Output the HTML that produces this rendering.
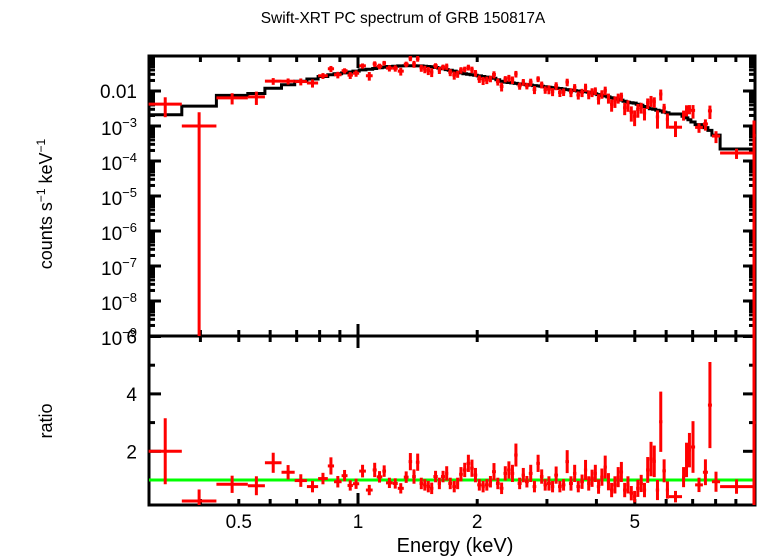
<!DOCTYPE html>
<html><head><meta charset="utf-8"><style>
html,body{margin:0;padding:0;background:#fff;}
svg{display:block;font-family:"Liberation Sans",sans-serif;}
</style></head><body>
<svg id="chart" width="758" height="556" viewBox="0 0 758 556" xmlns="http://www.w3.org/2000/svg">
<defs>
<clipPath id="clipTop"><rect x="148" y="56" width="608" height="280"/></clipPath>
<clipPath id="clipBot"><rect x="148" y="336" width="608" height="169"/></clipPath>
</defs>
<rect width="758" height="556" fill="#fff"/>
<text x="403" y="23" font-size="15.5" text-anchor="middle">Swift-XRT PC spectrum of GRB 150817A</text>
<text transform="translate(52,204) rotate(-90)" font-size="18" text-anchor="middle">counts s<tspan dy="-7" font-size="12">−1</tspan><tspan dy="7"> keV</tspan><tspan dy="-7" font-size="12">−1</tspan></text>
<text transform="translate(52,421) rotate(-90)" font-size="18" text-anchor="middle">ratio</text>
<text x="455" y="552" font-size="20" text-anchor="middle">Energy (keV)</text>
<g id="gAxes"></g>
<g id="gData"></g>
</svg>
<script>
// ---- data ----
const binEdges = [0.296,0.359,0.439,0.527,0.582,0.641,0.692,0.743,0.793,0.839,0.870,0.909,0.941,0.971,1.007,1.047,1.089,1.115,1.152,1.177,1.224,1.260,1.305,1.342,
1.37,1.40,1.43,1.46,1.49,1.52,1.55,1.59,1.62,1.66,1.69,1.73,1.77,1.80,1.84,1.88,1.92,1.96,2.00,2.05,2.09,2.14,2.18,2.23,2.28,2.33,2.38,2.43,2.48,2.53,2.59,2.64,2.70,2.76,2.82,2.88,2.94,3.00,3.07,3.13,3.20,3.27,3.34,3.41,3.49,3.56,3.64,
3.72,3.79,3.86,3.94,4.01,4.09,4.17,4.25,4.33,4.41,4.50,4.58,4.67,4.76,4.85,4.95,5.04,5.14,5.24,5.34,5.44,5.55,5.65,5.76,5.87,5.99,
6.10,6.58,6.70,6.81,6.93,7.10,7.43,7.65,7.83,8.21,9.94,10.1];
const ratioValues = [2.0,0.27,0.85,0.8,1.6,1.27,0.98,0.77,1.05,1.49,0.94,1.15,0.81,0.87,1.31,0.65,1.35,1.11,1.31,0.9,0.88,0.71,1.1,1.64,
1.12,1.62,0.88,0.83,0.77,0.71,1.12,0.88,1.12,1.23,0.88,0.77,0.88,1.2,1.35,1.58,1.41,1.17,0.83,0.77,0.83,0.94,1.29,0.88,0.71,1.23,1.35,1.23,1.87,0.88,1.17,0.94,1.23,0.77,1.58,1.12,0.83,0.88,0.77,1.17,0.77,0.83,1.64,0.88,1.23,0.77,0.94,
1.35,0.88,1.06,1.23,0.77,1.1,1.45,0.94,0.65,0.83,1.1,1.28,0.65,0.83,0.54,0.42,0.71,0.88,0.65,1.35,1.73,1.65,0.65,3.03,1.32,0.65,
0.42,1.1,1.7,2.04,2.15,0.83,1.27,3.61,0.94,0.77,3.0];
const ratioErrors = [1.15,0.4,0.3,0.33,0.35,0.25,0.22,0.2,0.2,0.3,0.2,0.2,0.18,0.18,0.22,0.18,0.25,0.2,0.2,0.18,0.18,0.18,0.2,0.3,
0.25,0.3,0.2,0.2,0.2,0.2,0.2,0.2,0.2,0.25,0.2,0.2,0.2,0.25,0.25,0.3,0.3,0.25,0.2,0.2,0.2,0.2,0.3,0.2,0.2,0.25,0.3,0.3,0.4,0.2,0.25,0.2,0.3,0.2,0.3,0.25,0.2,0.25,0.2,0.3,0.2,0.2,0.4,0.25,0.3,0.2,0.25,
0.35,0.25,0.3,0.3,0.25,0.3,0.4,0.3,0.25,0.3,0.35,0.35,0.25,0.3,0.25,0.2,0.3,0.3,0.25,0.45,0.6,0.55,0.35,1.05,0.4,0.3,
0.2,0.35,0.6,0.6,0.9,0.25,0.45,1.5,0.35,0.25,5.0];
const modelValues = [0.0021,0.0037,0.0075,0.0085,0.012,0.015,0.019,0.022,0.026,0.029,0.031,0.033,0.035,0.037,0.040,0.042,0.044,0.046,0.048,0.050,0.051,0.052,0.053,0.053,
0.053,0.052,0.052,0.051,0.050,0.049,0.047,0.045,0.043,0.041,0.039,0.037,0.035,0.033,0.031,0.030,0.029,0.028,0.027,0.026,0.025,0.024,0.023,0.021,0.019,0.018,0.0175,0.017,0.0165,0.016,0.0155,0.015,0.0147,0.0143,0.014,0.0136,0.0132,0.0128,0.0125,0.0121,0.0118,0.0114,0.011,0.0106,0.0103,0.010,0.0097,
0.0095,0.0092,0.0088,0.0083,0.0079,0.0075,0.0072,0.0068,0.0064,0.0062,0.0058,0.0055,0.0051,0.0048,0.0046,0.0045,0.0042,0.0039,0.0036,0.0034,0.0031,0.0030,0.0028,0.0027,0.0025,0.0024,
0.0022,0.0019,0.0017,0.0015,0.0013,0.0011,0.0009,0.00075,0.00055,0.00022,0.00018];
const xTickLabels = ["0.5","1","2","5"];
const xTickValues = [0.5,1,2,5];
const ratioTickValues = [2,4,6];

// ---- scales ----
const X0=149, X1=755, YT0=56, YT1=336, YB1=505;
function xs(e){return 358+396*Math.log10(e);}
function yt(v){ if(v<=0) return 2000; return 56+35*(-1-Math.log10(v)); }
function yb(r){return 508.7-28.7*r;}
const NS="http://www.w3.org/2000/svg";
function mk(tag,attrs,parent){const el=document.createElementNS(NS,tag);for(const k in attrs)el.setAttribute(k,attrs[k]);parent.appendChild(el);return el;}
const gData=document.getElementById('gData');
const gAxes=document.getElementById('gAxes');

const topG=mk('g',{'clip-path':'url(#clipTop)'},gData);


const botG=mk('g',{'clip-path':'url(#clipBot)'},gData);



// model step line
let d='';
for(let i=0;i<modelValues.length;i++){
  const xa=xs(binEdges[i]), xb=xs(binEdges[i+1]), y=yt(modelValues[i]);
  d+=(i===0?'M':'L')+xa.toFixed(1)+' '+y.toFixed(1)+' L'+xb.toFixed(1)+' '+y.toFixed(1)+' ';
}
const modelPath=mk('path',{d:d,fill:'none',stroke:'#000','stroke-width':3},topG);



// unity line
const unity=mk('line',{x1:X0,x2:X1,y1:yb(1),y2:yb(1),stroke:'#00ff00','stroke-width':3},botG);



// data crosses
for(let i=0;i<ratioValues.length;i++){
  const xa=xs(binEdges[i]), xb=xs(binEdges[i+1]), xc=Math.min((xa+xb)/2,754);
  const r=ratioValues[i], e=ratioErrors[i], m=modelValues[i];
  const gt=mk('g',{stroke:'#ff0000','stroke-width':3},topG);
  
  
  const yv=yt(r*m);
  mk('line',{x1:xa,x2:xb,y1:yv,y2:yv},gt);
  mk('line',{x1:xc,x2:xc,y1:yt((r+e)*m),y2:Math.min(yt((r-e)*m),400)},gt);
  const gb=mk('g',{stroke:'#ff0000','stroke-width':3},botG);
  
  
  mk('line',{x1:xa,x2:xb,y1:yb(r),y2:yb(r)},gb);
  mk('line',{x1:xc,x2:xc,y1:yb(r+e),y2:yb(r-e)},gb);
}

// frames
const f1=mk('rect',{x:X0,y:YT0,width:X1-X0,height:YT1-YT0,fill:'none',stroke:'#000','stroke-width':3},gAxes);


const f2=mk('rect',{x:X0,y:YT1,width:X1-X0,height:YB1-YT1,fill:'none',stroke:'#000','stroke-width':3},gAxes);



const tickG=mk('g',{stroke:'#000','stroke-width':3},gAxes);


for(let k=0;k<2;k++){
  const dec=k===0?0.1:1;
  for(let j=1;j<=9;j++){
    const e=dec*j; const x=xs(e);
    if(x<X0+2||x>X1-2) continue;
    const L=(j===1)?12:6;
    [YT0,YT1,YB1].forEach((y,idx)=>{
      if(idx===0) mk('line',{x1:x,x2:x,y1:y,y2:y+L},tickG);
      else if(idx===1) mk('line',{x1:x,x2:x,y1:y-L,y2:y+L},tickG);
      else mk('line',{x1:x,x2:x,y1:y-L,y2:y},tickG);
    });
  }
}
xTickValues.forEach((v,i)=>{
  const t=mk('text',{x:xs(v),y:528,'font-size':19,'text-anchor':'middle'},gAxes);
  t.textContent=xTickLabels[i];
  
  
});
for(let p=-9;p<=-1;p++){
  for(let j=1;j<=9;j++){
    const v=j*Math.pow(10,p); const y=yt(v);
    if(y<YT0+1||y>YT1) continue;
    const L=(j===1)?12:6;
    mk('line',{x1:X0,x2:X0+L,y1:y,y2:y},tickG);
    mk('line',{x1:X1-L,x2:X1,y1:y,y2:y},tickG);
  }
}
const t01=mk('text',{x:137,y:yt(0.01)+7,'font-size':19,'text-anchor':'end'},gAxes);
t01.textContent='0.01';


for(let p=-3;p>=-9;p--){
  const t=mk('text',{x:137,y:yt(Math.pow(10,p))+9,'font-size':19,'text-anchor':'end'},gAxes);
  
  
  t.textContent='10';
  const ts=mk('tspan',{dy:-8,'font-size':13},t);
  ts.textContent='−'+(-p);
}
for(let r=1;r<=6;r++){
  const y=yb(r); if(y<YT1) continue;
  const L=(r%2===0)?12:6;
  mk('line',{x1:X0,x2:X0+L,y1:y,y2:y},tickG);
  mk('line',{x1:X1-L,x2:X1,y1:y,y2:y},tickG);
}
ratioTickValues.forEach(v=>{
  const t=mk('text',{x:137,y:yb(v)+7,'font-size':19,'text-anchor':'end'},gAxes);
  t.textContent=String(v);
  
  
});
</script>
</body></html>
